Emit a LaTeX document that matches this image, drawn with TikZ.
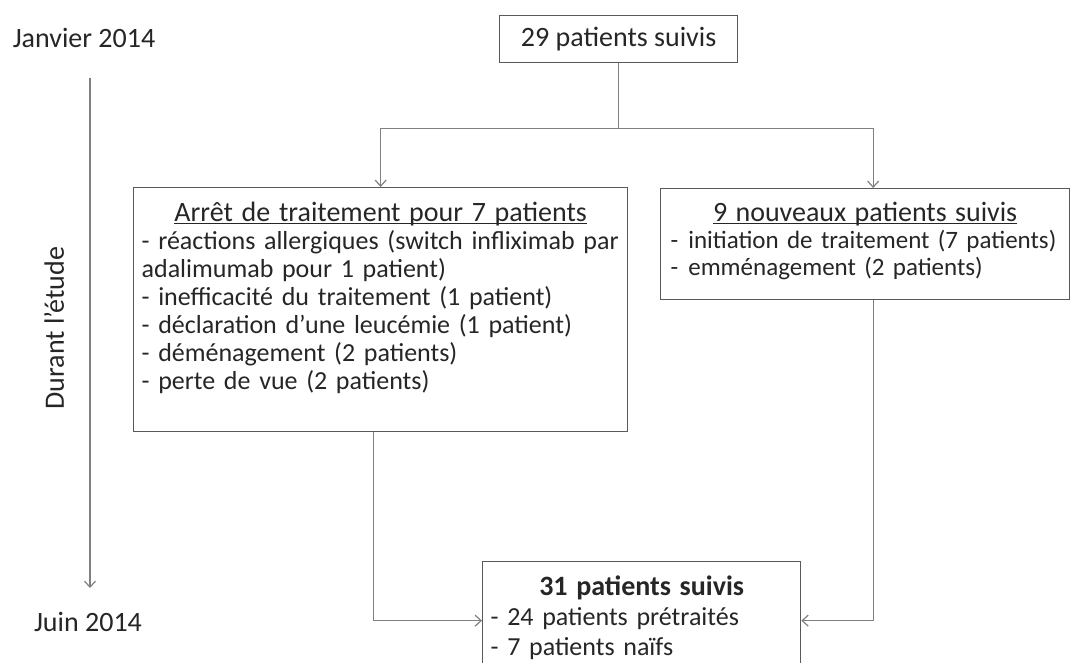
\documentclass[tikz,border=0pt]{standalone}
\usepackage{fontspec}
\setmainfont{Carlito}
\usetikzlibrary{arrows.meta, positioning, calc}
\definecolor{boxdraw}{HTML}{595959}
\definecolor{arrdraw}{HTML}{808080}
\definecolor{txt}{HTML}{262626}
% centred, underlined first line of a box; #1 = height above its baseline
\newcommand{\boxhead}[2]{\rule{0pt}{#1}\hfill{\fontsize{28}{28}\selectfont\underline{\raisebox{0pt}[\height][0pt]{#2}}}\hfill\null}
\newcommand{\boxfoot}[1]{\rule[-#1]{0pt}{0pt}}
\tikzset{
  blk/.style={rectangle, draw=boxdraw, line width=1.3pt, text=txt, align=left, anchor=north west, inner xsep=8pt, inner ysep=0pt, font=\fontsize{26}{28}\selectfont},
  lab/.style={text=txt, font=\fontsize{28}{30}\selectfont, inner sep=0pt},
  arr/.style={-{Straight Barb[length=6pt,width=11pt]}, line width=1.2pt, draw=arrdraw},
}

\begin{document}
\begin{tikzpicture}[x=1pt, y=-1pt]
  \useasboundingbox[fill=white] (0,0) rectangle (1070,663);
  % time line
  \node[lab] (jan) at (84,38) {Janvier 2014};
  \node[lab] (jun) at (88,622) {Juin 2014};
  \node[lab, rotate=90] (during) at (54,328) {Durant l’étude};
  \coordinate (tstart) at (90,78);
  \coordinate (tend) at (90,588);
  \draw[arr] (tstart) -- (tend);
  % boxes
  \node[blk, align=center, minimum width=238pt, minimum height=47pt, font=\fontsize{28}{30}\selectfont] (start) at (499,15) {29 patients suivis};
  \node[blk, text width=478pt] (stop) at (133,187)
    {\boxhead{34pt}{Arrêt de traitement pour 7 patients}\\
     - réactions allergiques (switch infliximab par\\
     adalimumab pour 1 patient)\\
     - inefficacité du traitement (1 patient)\\
     - déclaration d’une leucémie (1 patient)\\
     - déménagement (2 patients)\\
     - perte de vue (2 patients)\boxfoot{42pt}};
  \node[blk, inner xsep=6pt, text width=397pt, font=\fontsize{25}{27}\selectfont] (newpt) at (660,188)
    {\boxhead{33pt}{9 nouveaux patients suivis}\\
     \hspace{4pt}-\hspace{10pt}initiation de traitement (7 patients)\\
     \hspace{4pt}-\hspace{10pt}emménagement (2 patients)\boxfoot{24pt}};
  \node[blk, text width=302pt, font=\fontsize{26}{30}\selectfont] (last) at (482,561)
    {\rule{0pt}{34pt}\hfill{\fontsize{28}{30}\selectfont\bfseries 31 patients suivis}\hfill\null\\
     - 24 patients prétraités\\
     - 7 patients naïfs\boxfoot{20pt}};
  % connectors
  \path (start.south) ++(0,65) coordinate (fork);
  \coordinate (newin) at ([xshift=8pt]newpt.north);
  \coordinate (stopout) at ([xshift=-7pt]stop.south);
  \coordinate (newout) at ([xshift=8pt]newpt.south);
  \coordinate (lastin) at ([yshift=-2pt]last.west);
  \draw[arr, -] (start.south) -- (fork);
  \draw[arr] (fork) -| (stop.north);
  \draw[arr] (fork) -| (newin);
  \draw[arr] (stopout) |- (lastin);
  \draw[arr] (newout) |- (lastin -| last.east);
\end{tikzpicture}
\end{document}
